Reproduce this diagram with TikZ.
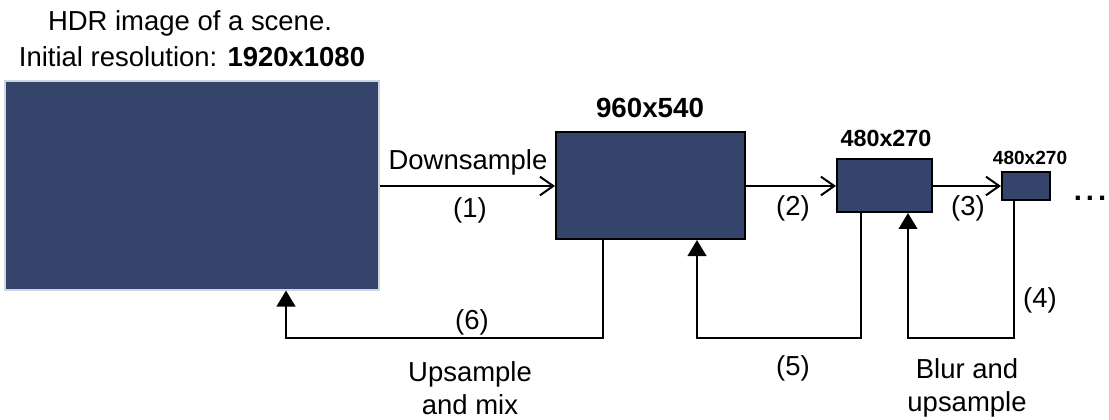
\documentclass[tikz,border=0pt]{standalone}
\usepackage{fontspec}
\setmainfont{Liberation Sans}
\usetikzlibrary{arrows.meta}
\definecolor{imgblue}{HTML}{34446A}
\definecolor{imgedge}{HTML}{D0D6E0}
\begin{document}
\begin{tikzpicture}[x=0.75pt,y=-0.75pt,
  txt/.style={font=\fontsize{20.6}{25}\selectfont, inner sep=0pt, align=center},
  bigimg/.style={fill=imgblue, draw=imgedge, line width=0.8pt, inner sep=0pt},
  level/.style={fill=imgblue, draw=black, line width=1.5pt, inner sep=0pt},
  openarr/.style={line width=1.5pt, -{Straight Barb[length=10pt,width=14pt,line width=1.5pt]}},
  backarr/.style={line width=1.5pt, -{Triangle[length=12pt,width=14pt]}}
]
\useasboundingbox (0,0) rectangle (1109,420);
% boxes
\node[bigimg, minimum width=280.5pt, minimum height=156.75pt] (big) at (192,185.5) {};
\node[level, minimum width=141.75pt, minimum height=80.25pt] (b1) at (650.5,185.5) {};
\node[level, minimum width=71.25pt, minimum height=39.75pt] (b2) at (884.5,185.5) {};
\node[level, minimum width=36pt, minimum height=21pt] (b3) at (1026,186) {};
% titles
\node[txt] (t1) at (190,23) {HDR image of a scene.};
\node[txt] (t2) at (192,57) {Initial resolution: \textbf{1920x1080}};
\node[txt, font=\fontsize{20.8}{24}\selectfont\bfseries] (l1) at (650,108) {960x540};
\node[txt, font=\fontsize{17.5}{20}\selectfont\bfseries] (l2) at (886,138) {480x270};
\node[txt, font=\fontsize{14.3}{16}\selectfont\bfseries] (l3) at (1030,158) {480x270};
\node[txt, anchor=base, font=\fontsize{22}{24}\selectfont\bfseries] (dots) at (1090,201) {.\hspace{3pt}.\hspace{3pt}.};
% forward arrows
\draw[openarr] (big.east |- 0,186) -- (b1.west |- 0,186);
\draw[openarr] (b1.east |- 0,186) -- (b2.west |- 0,186);
\draw[openarr] (b2.east |- 0,186) -- (b3.west |- 0,186);
% back connectors
\coordinate (r6) at (603,338);
\coordinate (l6) at (286,338);
\coordinate (r5) at (861,338);
\coordinate (l5) at (697,338);
\coordinate (r4) at (1014,338);
\coordinate (l4) at (908,338);
\draw[backarr] (r6 |- b1.south) -- (r6) -- (l6) -- (l6 |- big.south);
\draw[backarr] (r5 |- b2.south) -- (r5) -- (l5) -- (l5 |- b1.south);
\draw[backarr] (r4 |- b3.south) -- (r4) -- (l4) -- (l4 |- b2.south);
% labels
\node[txt] (down) at (468,162) {Downsample};
\node[txt] (n1) at (470,210) {(1)};
\node[txt] (n2) at (793,208) {(2)};
\node[txt] (n3) at (968,208) {(3)};
\node[txt] (n4) at (1040,300) {(4)};
\node[txt] (n5) at (793,368) {(5)};
\node[txt] (n6) at (472,322) {(6)};
\node[txt] (up) at (470,388) {Upsample\\and mix};
\node[txt] (blur) at (967,388) {Blur and\\upsample};
\end{tikzpicture}
\end{document}
